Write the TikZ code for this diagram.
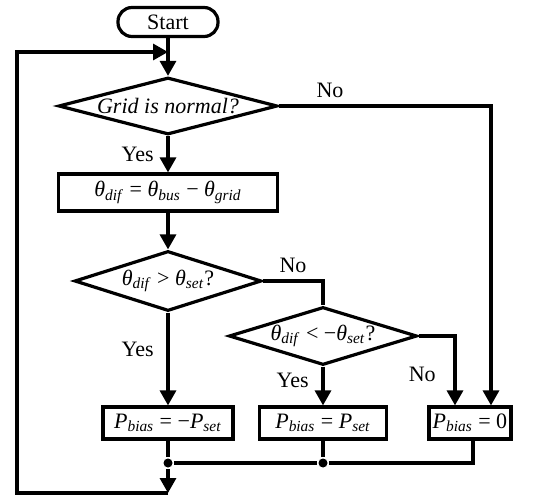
\documentclass[tikz,border=0pt]{standalone}
\usepackage{fontspec}
\setmainfont{Liberation Serif}
\usetikzlibrary{shapes.geometric,arrows.meta}
\newcommand{\sbs}[1]{\textsubscript{\textit{#1}}}
\newcommand{\thv}{\textit{θ}}

\begin{document}
\begin{tikzpicture}[x=0.5pt,y=-0.5pt,line width=1.6pt,
  font=\fontsize{11}{13}\selectfont,
  arr/.style={-{Triangle[length=7.5pt,width=8pt]}},
  terminal/.style={rectangle,draw,rounded corners=7pt,minimum width=50pt,minimum height=14.5pt,inner sep=0pt},
  process/.style={rectangle,draw,minimum height=16pt,inner sep=1pt},
  decision/.style={diamond,draw,aspect=3.8,inner sep=0pt},
  joint/.style={circle,fill,inner sep=0pt,minimum size=4.5pt}]
  \useasboundingbox (0,0) rectangle (557,497);

  %blocks
  \node[terminal] (start) at (168,22){Start};
  \node[decision,minimum width=109.5pt,minimum height=28.5pt] (qgrid) at (168,106){\textit{Grid is normal?}};
  \node[process,minimum width=109.5pt,minimum height=18.5pt] (calc) at (168,192.5){\thv\sbs{dif} = \thv\sbs{bus} − \thv\sbs{grid}};
  \node[decision,minimum width=93.5pt,minimum height=30pt] (qpos) at (168,281){\thv\sbs{dif} > \thv\sbs{set}?};
  \node[decision,minimum width=92.5pt,minimum height=29pt] (qneg) at (323,336){\thv\sbs{dif} < −\thv\sbs{set}?};
  \node[process,minimum width=65pt] (pneg) at (168,423){\textit{P}\sbs{bias} = −\textit{P}\sbs{set}};
  \node[process,minimum width=63.5pt] (ppos) at (323,423){\textit{P}\sbs{bias} = \textit{P}\sbs{set}};
  \node[process,minimum width=41pt] (pzero) at (470,423){\textit{P}\sbs{bias} = 0};

  %joints
  \coordinate (entry) at (168,52);
  \node[joint] (j1) at (168,463){};
  \node[joint] (j2) at (323,463){};
  \coordinate (bot) at (168,493);
  \coordinate (lb) at (17,493);
  \coordinate (lt) at (17,52);

  %arrows
  \draw (start) -- (entry);
  \draw[arr] (entry) -- (qgrid);
  \draw[arr] (qgrid) -- node[left=3pt]{Yes} (calc);
  \draw[arr] (qgrid.east) -| node[pos=0.12,above]{No} ([xshift=10.5pt]pzero.north);
  \draw[arr] (calc) -- (qpos);
  \draw[arr] (qpos) -- node[left=3pt,pos=0.4]{Yes} (pneg);
  \draw (qpos.east) -| node[pos=0.25,above]{No} (qneg.north);
  \draw[arr] (qneg) -- node[left=3pt,pos=0.35]{Yes} (ppos);
  \draw[arr] (qneg.east) -| node[pos=0.78,left=5.5pt]{No} ([xshift=-7.5pt]pzero.north);

  %feedback
  \draw (pneg) -- (j1);
  \draw (ppos) -- (j2);
  \draw ([xshift=1.5pt]pzero.south) |- (j2) -- (j1);
  \draw[arr] (j1) -- (bot);
  \draw[arr] (bot) -- (lb) -- (lt) -- (entry);
\end{tikzpicture}
\end{document}
